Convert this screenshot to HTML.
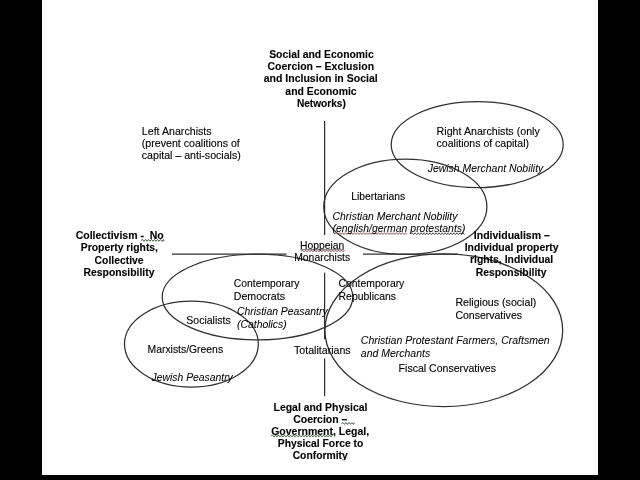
<!DOCTYPE html>
<html lang="en"><head><meta charset="utf-8"><title>Political spectrum diagram</title>
<style>
html,body{margin:0;padding:0;background:#000;}
body{width:640px;height:480px;overflow:hidden;position:relative;}
#slide{position:absolute;left:42px;top:0;width:556px;height:475px;background:#fff;overflow:hidden;}
svg{position:absolute;left:-42px;top:0;will-change:transform;}
text{font-family:"Liberation Sans",Arial,Helvetica,sans-serif;font-size:10.67px;fill:#000;stroke:#000;stroke-width:0.12px;}
.b{font-weight:bold;stroke-width:0.12px;}
.i{font-style:italic;stroke-width:0.05px;}
.l{fill:none;stroke:#303030;stroke-width:1.25;}
</style></head><body>
<div id="slide">
<svg width="640" height="480" viewBox="0 0 640 480">
<defs><clipPath id="c"><rect x="42" y="0" width="556" height="460.2"/></clipPath></defs>
<g clip-path="url(#c)" opacity="0.999">
<line class="l" x1="324.6" y1="121" x2="324.6" y2="235"/>
<line class="l" x1="324.6" y1="272.6" x2="324.6" y2="339"/>
<line class="l" x1="324.6" y1="358.4" x2="324.6" y2="396.2"/>
<line class="l" x1="172" y1="254.0" x2="286.5" y2="254.0"/>
<line class="l" x1="363" y1="254.0" x2="458" y2="254.0"/>
<ellipse class="l" cx="477.2" cy="144.6" rx="86.0" ry="43.0"/>
<ellipse class="l" cx="405.3" cy="206.7" rx="81.6" ry="47.7"/>
<ellipse class="l" cx="257.5" cy="297.05" rx="95.3" ry="42.85"/>
<ellipse class="l" cx="191.4" cy="344.1" rx="66.9" ry="42.9"/>
<ellipse class="l" cx="443.8" cy="330.2" rx="118.9" ry="76.4"/>
<path d="M335.0 233.6 L336.5 232.7 L338.0 234.5 L339.5 232.7 L341.0 234.5 L342.5 232.7 L344.0 234.5 L345.5 232.7 L347.0 234.5 L348.5 232.7 L350.0 234.5 L351.5 232.7 L353.0 234.5 L354.5 232.7 L356.0 234.5 L357.5 232.7 L359.0 234.5 L360.5 232.7 L362.0 234.5 L363.5 232.7 L365.0 234.5 L366.5 232.7 L368.0 234.5 L369.5 232.7 L371.0 234.5 L372.5 232.7 L374.0 234.5 L375.5 232.7 L377.0 234.5 L378.5 232.7 L380.0 234.5 L381.5 232.7 L383.0 234.5 L384.5 232.7 L386.0 234.5 L387.5 232.7 L389.0 234.5 L390.5 232.7 L392.0 234.5 L393.5 232.7 L395.0 234.5 L396.5 232.7 L398.0 234.5 L399.5 232.7 L401.0 234.5 L402.5 232.7 L404.0 234.5 L405.5 232.7 L407.0 234.5" fill="none" stroke="#8a4a55" stroke-width="0.9"/>
<path d="M410.6 233.7 L412.1 232.8 L413.6 234.6 L415.1 232.8 L416.6 234.6 L418.1 232.8 L419.6 234.6 L421.1 232.8 L422.6 234.6 L424.1 232.8 L425.6 234.6 L427.1 232.8 L428.6 234.6 L430.1 232.8 L431.6 234.6 L433.1 232.8 L434.6 234.6 L436.1 232.8 L437.6 234.6 L439.1 232.8 L440.6 234.6 L442.1 232.8 L443.6 234.6 L445.1 232.8 L446.6 234.6 L448.1 232.8 L449.6 234.6 L451.1 232.8 L452.6 234.6 L454.1 232.8 L455.6 234.6 L457.1 232.8 L458.6 234.6 L460.1 232.8 L461.6 234.6 L463.1 232.8 L464.4 234.6" fill="none" stroke="#3c3638" stroke-width="0.9"/>
<line x1="300.3" y1="249.7" x2="344.2" y2="249.7" stroke="#444" stroke-width="0.8"/>
<path d="M301.0 251.0 L302.5 250.1 L304.0 251.9 L305.5 250.1 L307.0 251.9 L308.5 250.1 L310.0 251.9 L311.5 250.1 L313.0 251.9 L314.5 250.1 L316.0 251.9 L317.5 250.1 L319.0 251.9 L320.5 250.1 L322.0 251.9 L323.5 250.1 L325.0 251.9 L326.5 250.1 L328.0 251.9 L329.5 250.1 L331.0 251.9 L332.5 250.1 L334.0 251.9 L335.5 250.1 L337.0 251.9 L338.5 250.1 L340.0 251.9 L341.5 250.1 L343.0 251.9 L344.5 250.1" fill="none" stroke="#9a5560" stroke-width="0.9"/>
<path d="M141.0 240.4 L142.5 239.5 L144.0 241.3 L145.5 239.5 L147.0 241.3 L148.5 239.5 L150.0 241.3 L151.5 239.5 L153.0 241.3 L154.5 239.5 L156.0 241.3 L157.5 239.5 L159.0 241.3 L160.5 239.5 L162.0 241.3 L163.5 239.5 L164.0 241.3" fill="none" stroke="#364a36" stroke-width="0.9"/>
<path d="M341.5 423.5 L343.0 422.6 L344.5 424.4 L346.0 422.6 L347.5 424.4 L349.0 422.6 L350.5 424.4 L352.0 422.6 L353.5 424.4 L354.4 422.6" fill="none" stroke="#364a36" stroke-width="0.9"/>
<path d="M271.0 436.0 L272.5 435.1 L274.0 436.9 L275.5 435.1 L277.0 436.9 L278.5 435.1 L280.0 436.9 L281.5 435.1 L283.0 436.9 L284.5 435.1 L286.0 436.9 L287.5 435.1 L289.0 436.9 L290.5 435.1 L292.0 436.9 L293.5 435.1 L295.0 436.9 L296.5 435.1 L298.0 436.9 L299.5 435.1 L301.0 436.9 L302.5 435.1 L304.0 436.9 L305.5 435.1 L307.0 436.9 L308.5 435.1 L310.0 436.9 L311.5 435.1 L313.0 436.9 L314.5 435.1 L316.0 436.9 L317.5 435.1 L319.0 436.9 L320.5 435.1 L322.0 436.9 L323.5 435.1 L325.0 436.9 L326.5 435.1 L328.0 436.9 L329.5 435.1 L331.0 436.9 L332.5 435.1" fill="none" stroke="#364a36" stroke-width="0.9"/>
<text x="321.5" y="58.2" class="b" text-anchor="middle" textLength="104.6" lengthAdjust="spacingAndGlyphs">Social and Economic</text>
<text x="320.8" y="70.2" class="b" text-anchor="middle" textLength="106.5" lengthAdjust="spacingAndGlyphs">Coercion – Exclusion</text>
<text x="320.7" y="82.0" class="b" text-anchor="middle" textLength="114" lengthAdjust="spacingAndGlyphs">and Inclusion in Social</text>
<text x="321.0" y="94.7" class="b" text-anchor="middle" textLength="71.3" lengthAdjust="spacingAndGlyphs">and Economic</text>
<text x="321.4" y="106.9" class="b" text-anchor="middle" textLength="49" lengthAdjust="spacingAndGlyphs">Networks)</text>
<text x="141.8" y="134.5" textLength="69.8" lengthAdjust="spacingAndGlyphs">Left Anarchists</text>
<text x="141.8" y="146.7" textLength="98" lengthAdjust="spacingAndGlyphs">(prevent coalitions of</text>
<text x="141.8" y="158.5" textLength="99" lengthAdjust="spacingAndGlyphs">capital – anti-socials)</text>
<text x="436.6" y="134.5" textLength="103.2" lengthAdjust="spacingAndGlyphs">Right Anarchists (only</text>
<text x="436.6" y="147.3" textLength="92.4" lengthAdjust="spacingAndGlyphs">coalitions of capital)</text>
<text x="427.7" y="171.5" class="i" textLength="115.6" lengthAdjust="spacingAndGlyphs">Jewish Merchant Nobility</text>
<text x="351.3" y="200" textLength="53.8" lengthAdjust="spacingAndGlyphs">Libertarians</text>
<text x="332.5" y="220" class="i" textLength="125" lengthAdjust="spacingAndGlyphs">Christian Merchant Nobility</text>
<text x="332.5" y="232.0" class="i" textLength="133" lengthAdjust="spacingAndGlyphs">(english/german protestants)</text>
<text x="322.2" y="248.5" text-anchor="middle" textLength="44.2" lengthAdjust="spacingAndGlyphs">Hoppeian</text>
<text x="322.2" y="261" text-anchor="middle" textLength="56.0" lengthAdjust="spacingAndGlyphs">Monarchists</text>
<text x="119.7" y="239.3" class="b" text-anchor="middle" textLength="88" lengthAdjust="spacingAndGlyphs" xml:space="preserve">Collectivism -  No</text>
<text x="119.4" y="251.3" class="b" text-anchor="middle" textLength="77.2" lengthAdjust="spacingAndGlyphs">Property rights,</text>
<text x="119.1" y="263.5" class="b" text-anchor="middle" textLength="49" lengthAdjust="spacingAndGlyphs">Collective</text>
<text x="119.0" y="275.9" class="b" text-anchor="middle" textLength="70.9" lengthAdjust="spacingAndGlyphs">Responsibility</text>
<text x="511.8" y="239.3" class="b" text-anchor="middle" textLength="75.9" lengthAdjust="spacingAndGlyphs">Individualism –</text>
<text x="511.6" y="251.3" class="b" text-anchor="middle" textLength="93.9" lengthAdjust="spacingAndGlyphs">Individual property</text>
<text x="511.6" y="263.1" class="b" text-anchor="middle" textLength="83.3" lengthAdjust="spacingAndGlyphs">rights, Individual</text>
<text x="511.1" y="275.9" class="b" text-anchor="middle" textLength="70.8" lengthAdjust="spacingAndGlyphs">Responsibility</text>
<text x="338.6" y="287.3" textLength="65.7" lengthAdjust="spacingAndGlyphs">Contemporary</text>
<text x="338.6" y="299.8" textLength="57.4" lengthAdjust="spacingAndGlyphs">Republicans</text>
<text x="233.8" y="286.7" textLength="65.6" lengthAdjust="spacingAndGlyphs">Contemporary</text>
<text x="233.8" y="299.8" textLength="51.2" lengthAdjust="spacingAndGlyphs">Democrats</text>
<text x="237.0" y="315.0" class="i" textLength="90.6" lengthAdjust="spacingAndGlyphs">Christian Peasantry</text>
<text x="237.0" y="327.6" class="i" textLength="49.7" lengthAdjust="spacingAndGlyphs">(Catholics)</text>
<text x="186.3" y="324.0" textLength="44.4" lengthAdjust="spacingAndGlyphs">Socialists</text>
<text x="147.5" y="353.2" textLength="75.6" lengthAdjust="spacingAndGlyphs">Marxists/Greens</text>
<text x="151.6" y="381.4" class="i" textLength="81.2" lengthAdjust="spacingAndGlyphs">Jewish Peasantry</text>
<text x="294.0" y="353.8" textLength="56.7" lengthAdjust="spacingAndGlyphs">Totalitarians</text>
<text x="455.4" y="306.2" textLength="80.9" lengthAdjust="spacingAndGlyphs">Religious (social)</text>
<text x="455.4" y="318.8" textLength="66.6" lengthAdjust="spacingAndGlyphs">Conservatives</text>
<text x="360.8" y="343.7" class="i" textLength="188.9" lengthAdjust="spacingAndGlyphs">Christian Protestant Farmers, Craftsmen</text>
<text x="360.8" y="356.5" class="i" textLength="69.4" lengthAdjust="spacingAndGlyphs">and Merchants</text>
<text x="398.6" y="372" textLength="97.4" lengthAdjust="spacingAndGlyphs">Fiscal Conservatives</text>
<text x="320.5" y="411.2" class="b" text-anchor="middle" textLength="93.9" lengthAdjust="spacingAndGlyphs">Legal and Physical</text>
<text x="320.3" y="423.3" class="b" text-anchor="middle" textLength="54.3" lengthAdjust="spacingAndGlyphs">Coercion –</text>
<text x="320.2" y="435.3" class="b" text-anchor="middle" textLength="98" lengthAdjust="spacingAndGlyphs">Government, Legal,</text>
<text x="320.5" y="446.9" class="b" text-anchor="middle" textLength="85.5" lengthAdjust="spacingAndGlyphs">Physical Force to</text>
<text x="320.2" y="458.7" class="b" text-anchor="middle" textLength="55.1" lengthAdjust="spacingAndGlyphs">Conformity</text>
</g></svg></div></body></html>
